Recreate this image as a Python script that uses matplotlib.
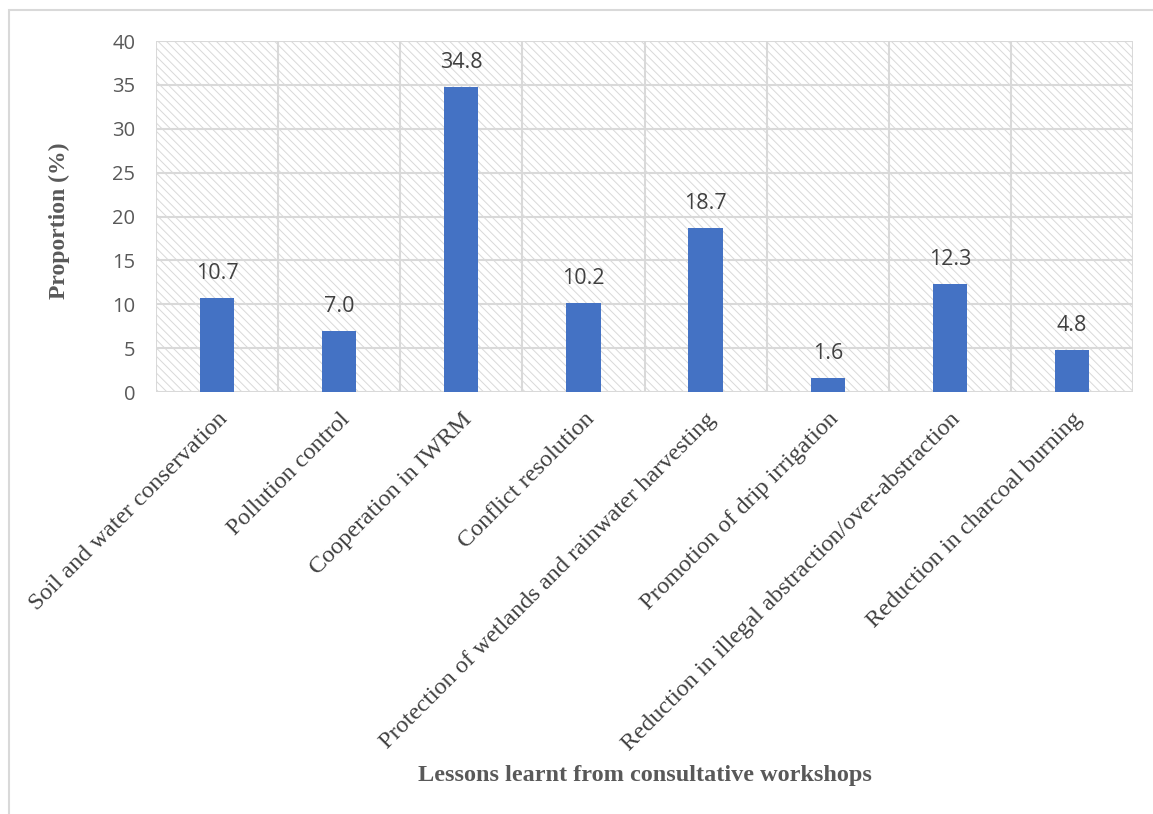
import numpy as np
import matplotlib.pyplot as plt
from matplotlib.patches import Rectangle

lessons = ["Soil and water conservation", "Pollution control", "Cooperation in IWRM",
           "Conflict resolution", "Protection of wetlands and rainwater harvesting",
           "Promotion of drip irrigation", "Reduction in illegal abstraction/over-abstraction",
           "Reduction in charcoal burning"]
proportion = [10.7, 7.0, 34.8, 10.2, 18.7, 1.6, 12.3, 4.8]
y_ticks = [0, 5, 10, 15, 20, 25, 30, 35, 40]

grid_col = "#d9d9d9"
plt.rcParams["hatch.linewidth"] = 0.7
plt.rcParams["hatch.color"] = grid_col

fig = plt.figure(figsize=(11.53, 8.14), dpi=100)
# thin frame round the chart area
fig.patches.append(Rectangle((9 / 1153, -0.1), 1.2, 1.1 - 10 / 814, transform=fig.transFigure,
                             fill=False, edgecolor=grid_col, linewidth=1.5))

ax = fig.add_axes([0.1353, 0.5184, 0.8474, 0.4312])
x = np.arange(len(lessons))
ax.set_xlim(-0.5, len(lessons) - 0.5)
ax.set_ylim(0, 40)

# hatched plot area
ax.add_patch(Rectangle((0, 0), 1, 1, transform=ax.transAxes, facecolor="white",
                       hatch="\\\\\\\\", edgecolor=grid_col, linewidth=0, zorder=0))
for yv in y_ticks:
    ax.axhline(yv, color=grid_col, lw=1.5, zorder=1)
for xv in np.arange(-0.5, len(lessons), 1.0):
    ax.axvline(xv, color=grid_col, lw=1.5, zorder=1)

ax.bar(x, proportion, width=0.28, color="#4472c4", zorder=2)
for xi, v in zip(x, proportion):
    ax.text(xi, v + 2.15, f"{v:.1f}", ha="center", va="baseline", fontsize=15.5,
            color="#404040", family="Open Sans")

for s in ax.spines.values():
    s.set_visible(False)
ax.set_yticks(y_ticks)
ax.set_yticklabels([str(t) for t in y_ticks], fontsize=14.5, color="#595959", family="Open Sans")
ax.tick_params(axis="both", length=0)
ax.tick_params(axis="y", pad=15)
ax.set_xticks(x)
ax.set_xticklabels(lessons, rotation=45, ha="right", rotation_mode="anchor",
                   fontsize=17.5, color="#404040", family="Liberation Serif")
ax.tick_params(axis="x", pad=12)

fig.text(59 / 1153, 1 - 221 / 814, "Proportion (%)", rotation=90, ha="center", va="center",
         fontsize=17, fontweight="bold", color="#595959", family="Liberation Serif")
fig.text(645 / 1153, 1 - 775 / 814, "Lessons learnt from consultative workshops", ha="center",
         va="center", fontsize=17.5, fontweight="bold", color="#595959", family="Liberation Serif")

fig.savefig("out.png", dpi=100)
